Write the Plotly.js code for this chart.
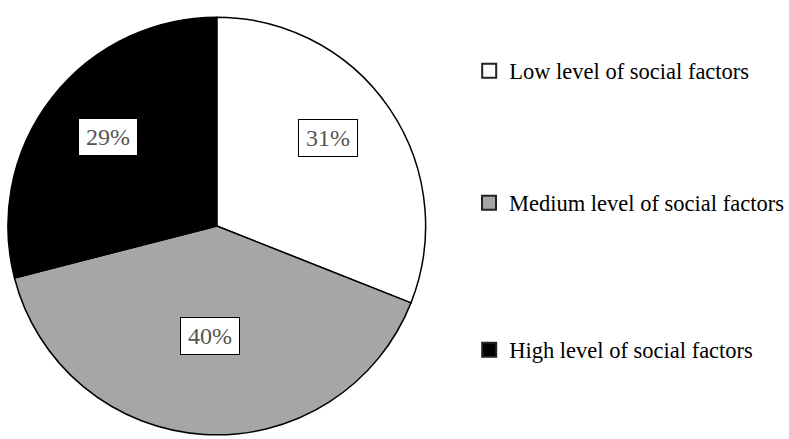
<!DOCTYPE html>
<html>
<head>
<meta charset="utf-8">
<script src="https://cdn.plot.ly/plotly-3.0.1.min.js"></script>
<style>html,body{margin:0;padding:0;background:#fff;}#chart{width:789px;height:439px;}</style>
</head>
<body>
<div id="chart"></div>
<script>
const categories = ["Low level of social factors", "Medium level of social factors", "High level of social factors"];
const values = [31, 40, 29];
const sliceColors = ["#ffffff", "#a6a6a6", "#000000"];
const labelText = ["31%", "40%", "29%"];

const FONT = "'Liberation Serif', 'Times New Roman', Times, serif";
const W = 789, H = 439;
const pieLeft = 8, pieRight = 430, pieTop = 15, pieBottom = 437;
const R = (pieRight - pieLeft) / 2;
const cxPx = (pieLeft + pieRight) / 2, cyPx = (pieTop + pieBottom) / 2;
const labelRadius = [0.66, 0.51, 0.67];
const labelShift = [[-3, 10], [0, -3], [2, 2]];

const pie = {
  type: "pie",
  labels: categories,
  values: values,
  sort: false,
  direction: "clockwise",
  rotation: 0,
  textinfo: "none",
  hoverinfo: "label+percent",
  showlegend: false,
  marker: { colors: sliceColors, line: { color: "#000", width: 1.5 } },
  domain: { x: [pieLeft / W, pieRight / W], y: [(H - pieBottom) / H, (H - pieTop) / H] }
};

const total = values.reduce((a, b) => a + b, 0);
let cum = 0;
const annotations = values.map((v, i) => {
  const mid = (cum + v / 2) / total * 2 * Math.PI;
  cum += v;
  const r = labelRadius[i] * R;
  return {
    xref: "paper", yref: "paper",
    x: (cxPx + r * Math.sin(mid)) / W,
    y: (H - (cyPx - r * Math.cos(mid))) / H,
    xshift: labelShift[i][0], yshift: labelShift[i][1],
    text: labelText[i],
    showarrow: false,
    font: { family: FONT, size: 24, color: "#555" },
    bgcolor: "#fff", bordercolor: "#000", borderwidth: 1,
    width: 56, height: 34, borderpad: 1,
    xanchor: "center", yanchor: "middle"
  };
});

const legendY = [71, 203, 350];
const legendNames = ["legend", "legend2", "legend3"];
const legendTraces = categories.map((c, i) => ({
  type: "scatter", mode: "markers", x: [null], y: [null],
  name: c, legend: legendNames[i], showlegend: true,
  marker: { symbol: "square", size: 14, color: sliceColors[i], line: { color: "#222", width: 2 } }
}));

const layout = {
  width: W, height: H,
  margin: { l: 0, r: 0, t: 0, b: 0 },
  paper_bgcolor: "#fff", plot_bgcolor: "#fff",
  font: { family: FONT },
  xaxis: { visible: false }, yaxis: { visible: false },
  annotations: annotations
};
legendNames.forEach((ln, i) => {
  layout[ln] = {
    x: 474 / W, xanchor: "left",
    y: (H - legendY[i]) / H, yanchor: "middle",
    bgcolor: "rgba(0,0,0,0)",
    font: { family: FONT, size: 22.5, color: "#000" }
  };
});

Plotly.newPlot("chart", [pie].concat(legendTraces), layout, { displayModeBar: false, staticPlot: true });
</script>
</body>
</html>
